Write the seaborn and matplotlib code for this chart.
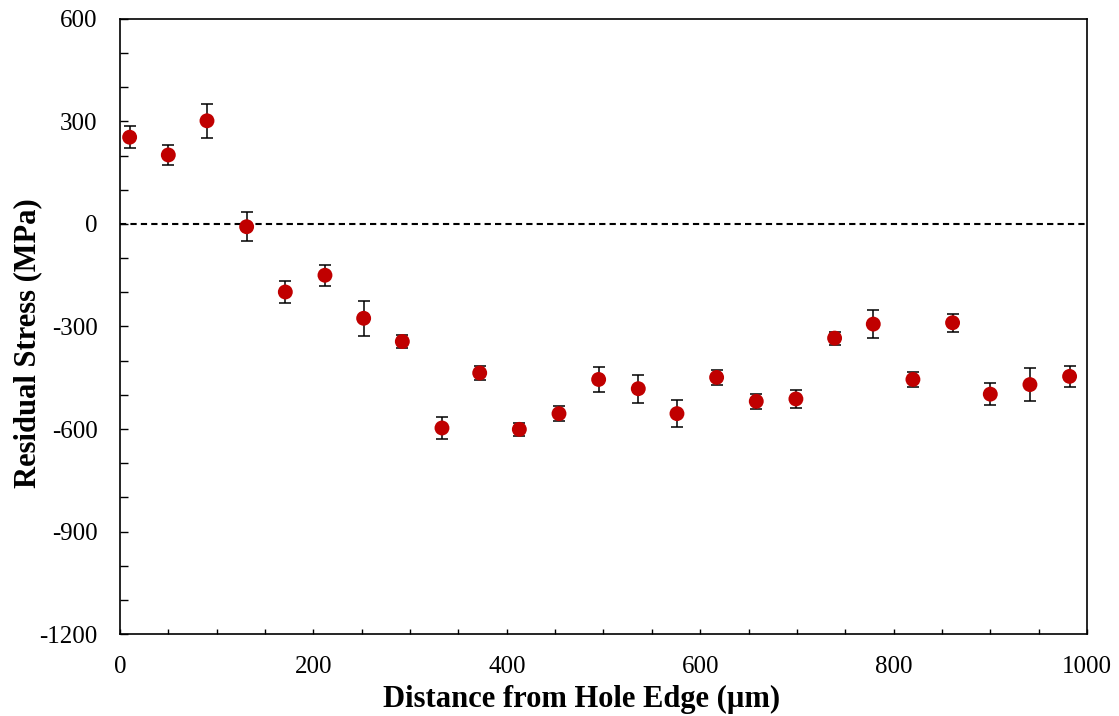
import matplotlib
matplotlib.use("Agg")
import matplotlib.pyplot as plt
from matplotlib.ticker import MultipleLocator
import seaborn as sns
import pandas as pd

distance = [10, 50, 90, 131, 171, 212, 252, 292, 333, 372, 413, 454, 495,
            536, 576, 617, 658, 699, 739, 779, 820, 861, 900, 941, 982]
stress = [254, 202, 302, -8, -199, -150, -276, -344, -597, -436, -601, -555, -455,
          -482, -555, -449, -519, -512, -334, -293, -455, -289, -498, -470, -446]
error = [33, 28, 49, 43, 33, 31, 51, 20, 33, 20, 20, 22, 37,
         41, 39, 22, 22, 27, 19, 41, 23, 27, 32, 49, 31]

df = pd.DataFrame({"Distance": distance, "Stress": stress, "Err": error})

sns.set_theme(style="white")
plt.rcParams["font.family"] = ["Liberation Serif", "DejaVu Serif"]
plt.rcParams["axes.unicode_minus"] = False
plt.rcParams["text.color"] = "black"
plt.rcParams["axes.labelcolor"] = "black"

fig = plt.figure(figsize=(11.19, 7.16), dpi=100)
ax = fig.add_axes([0.1072, 0.1145, 0.8642, 0.859])

ax.axhline(0, color="black", linestyle=(0, (3, 2)), linewidth=1.5, zorder=1)
ax.errorbar(df["Distance"], df["Stress"], yerr=df["Err"], fmt="none",
            ecolor="black", elinewidth=1.1, capsize=4, capthick=1.1, zorder=2)
sns.scatterplot(data=df, x="Distance", y="Stress", ax=ax, color="#C00000",
                s=115, edgecolor="none", zorder=3, legend=False)

ax.set_xlim(0, 1000)
ax.set_ylim(-1200, 600)
ax.xaxis.set_major_locator(MultipleLocator(200))
ax.xaxis.set_minor_locator(MultipleLocator(50))
ax.yaxis.set_major_locator(MultipleLocator(300))
ax.yaxis.set_minor_locator(MultipleLocator(100))
ax.tick_params(axis="both", which="both", direction="in", bottom=True, left=True,
               top=False, right=False, labelsize=18, colors="black", width=1)
ax.tick_params(axis="x", which="both", length=3.5, pad=16)
ax.tick_params(axis="y", which="both", length=5.8, pad=16)
for s in ax.spines.values():
    s.set_color("black")
    s.set_linewidth(1.2)

ax.set_xlabel("Distance from Hole Edge (µm)", fontsize=22, fontweight="bold",
              labelpad=5, x=0.477)
ax.set_ylabel("Residual Stress (MPa)", fontsize=22, fontweight="bold",
              labelpad=-2, y=0.473)

fig.savefig("out.png", dpi=100)
